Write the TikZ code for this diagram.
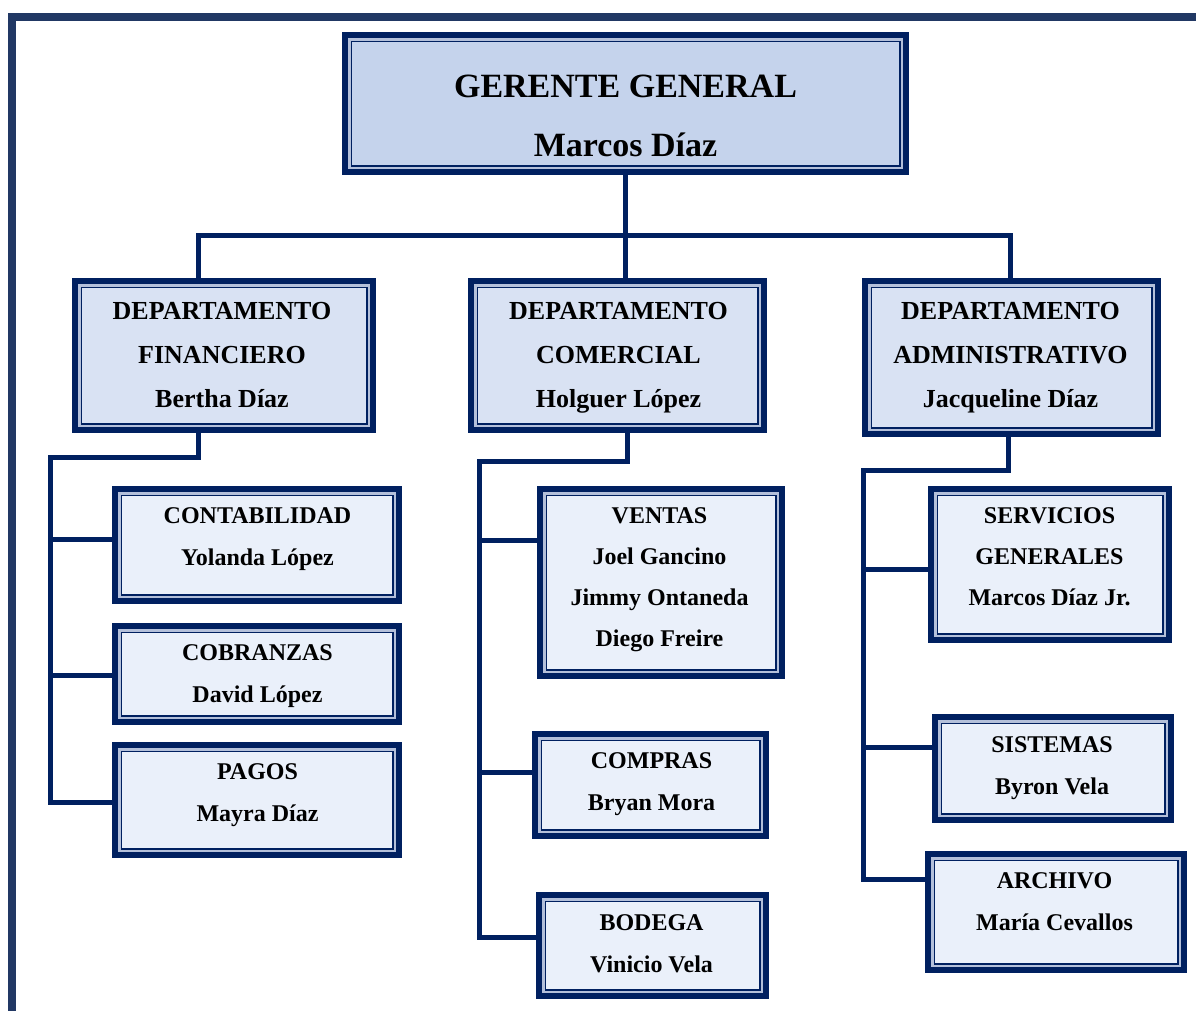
\documentclass[tikz,border=0pt]{standalone}
\usepackage{fontspec}
\setmainfont{Liberation Serif}
\usetikzlibrary{calc}
\pgfdeclarelayer{background}
\pgfsetlayers{background,main}

\definecolor{navy}{HTML}{002060}
\definecolor{framecol}{HTML}{213864}
\definecolor{gapcol}{HTML}{B4C0DA}
\definecolor{topfill}{HTML}{C5D3EC}
\definecolor{deptfill}{HTML}{D9E2F3}
\definecolor{unitfill}{HTML}{EAF0FA}

\tikzset{
  orgbox/.style={rectangle, draw=navy, line width=6pt, inner sep=0pt, outer sep=0pt},
  gapline/.style={draw=gapcol, line width=2.5pt},
  thinline/.style={draw=navy, line width=1.5pt},
  conn/.style={draw=navy, line width=5pt, line join=miter},
  lbl/.style={align=center, text=black, inner sep=0pt},
  toptext/.style={lbl, font=\bfseries\fontsize{34}{59}\selectfont},
  depttext/.style={lbl, font=\bfseries\fontsize{26}{44}\selectfont},
  unittext/.style={lbl, font=\bfseries\fontsize{24}{42}\selectfont},
  unittextb/.style={lbl, font=\bfseries\fontsize{24}{41}\selectfont},
}

% box with a thick outer rule and a thin inner rule: name, x1, y1, x2, y2, fill
\newcommand\orgbox[6]{%
  \node[orgbox, fill=#6, minimum width={#4-#2-6}, minimum height={#5-#3-6}]
    (#1) at ({(#2+#4)/2},{(#3+#5)/2}) {};
  \draw[gapline] ([shift={(4.25,4.25)}]#1.north west) rectangle ([shift={(-4.25,-4.25)}]#1.south east);
  \draw[thinline] ([shift={(6.25,6.25)}]#1.north west) rectangle ([shift={(-6.25,-6.25)}]#1.south east);
}

\begin{document}
\begin{tikzpicture}[x=1pt, y=-1pt]
\useasboundingbox (0,0) rectangle (1196,1010);

% page frame
\begin{scope}
  \clip (0,0) rectangle (1196,1010);
  \draw[framecol, line width=8pt] (12,17.3) rectangle (1260,1080);
\end{scope}

% boxes
\orgbox{ger}{342}{32}{909}{175}{topfill}
\orgbox{fin}{72}{278}{376}{433}{deptfill}
\orgbox{com}{468}{278}{767}{433}{deptfill}
\orgbox{adm}{862}{278}{1161}{437}{deptfill}
\orgbox{con}{112}{486}{402}{604}{unitfill}
\orgbox{cob}{112}{623}{402}{725}{unitfill}
\orgbox{pag}{112}{742}{402}{858}{unitfill}
\orgbox{ven}{537}{486}{785}{679}{unitfill}
\orgbox{cmp}{532}{731}{769}{839}{unitfill}
\orgbox{bod}{536}{892}{769}{999}{unitfill}
\orgbox{ser}{928}{486}{1172}{643}{unitfill}
\orgbox{sis}{932}{714}{1174}{823}{unitfill}
\orgbox{arc}{925}{851}{1187}{973}{unitfill}

% labels
\node[toptext] (ger-t) at (625.5,115.5) {GERENTE GENERAL\\Marcos Díaz};
\node[depttext] (fin-t) at (222,355) {DEPARTAMENTO\\FINANCIERO\\Bertha Díaz};
\node[depttext] (com-t) at (618.5,358) {DEPARTAMENTO\\COMERCIAL\\Holguer López};
\node[depttext] (adm-t) at (1010.5,358) {DEPARTAMENTO\\ADMINISTRATIVO\\Jacqueline Díaz};
\node[unittext] (con-t) at (257.5,539) {CONTABILIDAD\\Yolanda López};
\node[unittext] (cob-t) at (257.5,676) {COBRANZAS\\David López};
\node[unittext] (pag-t) at (257.5,795) {PAGOS\\Mayra Díaz};
\node[unittextb] (ven-t) at (659.5,579.5) {VENTAS\\Joel Gancino\\Jimmy Ontaneda\\Diego Freire};
\node[unittext] (cmp-t) at (651.5,784) {COMPRAS\\Bryan Mora};
\node[unittext] (bod-t) at (651.5,944) {BODEGA\\Vinicio Vela};
\node[unittextb] (ser-t) at (1049.5,557) {SERVICIOS\\GENERALES\\Marcos Díaz Jr.};
\node[unittext] (sis-t) at (1052,768) {SISTEMAS\\Byron Vela};
\node[unittext] (arc-t) at (1054.5,902) {ARCHIVO\\María Cevallos};

% connector routing points
\coordinate (bus) at (0,235.5);
\coordinate (finx) at (198.5,0);
\coordinate (comx) at (625,0);
\coordinate (admx) at (1010,0);
% financial branch
\coordinate (fdrop) at (198.5,457.5);
\coordinate (ftop) at (50.5,457.5);
\coordinate (f1) at (50.5,539.5);
\coordinate (f2) at (50.5,675.5);
\coordinate (f3) at (50.5,802.5);
% commercial branch
\coordinate (cdrop) at (627,461.5);
\coordinate (ctop) at (479,461.5);
\coordinate (c1) at (479,540.5);
\coordinate (c2) at (479,772.5);
\coordinate (c3) at (479,937.5);
% administrative branch
\coordinate (adrop) at (1008,470.5);
\coordinate (atop) at (863,470.5);
\coordinate (a1) at (863,569);
\coordinate (a2) at (863,747.5);
\coordinate (a3) at (863,879.5);

\begin{pgfonlayer}{background}
  \draw[conn] (ger.south) -- (ger.south |- bus);
  \draw[conn] (fin.north -| finx) -- (finx |- bus) -- (admx |- bus) -- (adm.north -| admx);
  \draw[conn] (com.north -| comx) -- (comx |- bus);

  \draw[conn] (fin.south -| fdrop) -- (fdrop) -- (ftop) -- (f3) -- (pag.west |- f3);
  \draw[conn] (f1) -- (con.west |- f1);
  \draw[conn] (f2) -- (cob.west |- f2);

  \draw[conn] (com.south -| cdrop) -- (cdrop) -- (ctop) -- (c3) -- (bod.west |- c3);
  \draw[conn] (c1) -- (ven.west |- c1);
  \draw[conn] (c2) -- (cmp.west |- c2);

  \draw[conn] (adm.south -| adrop) -- (adrop) -- (atop) -- (a3) -- (arc.west |- a3);
  \draw[conn] (a1) -- (ser.west |- a1);
  \draw[conn] (a2) -- (sis.west |- a2);
\end{pgfonlayer}
\end{tikzpicture}
\end{document}
